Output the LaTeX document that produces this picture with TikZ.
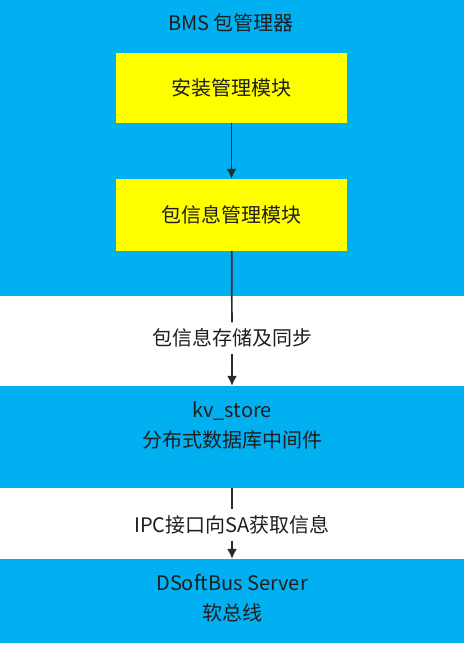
\documentclass[tikz,border=0pt]{standalone}
\usepackage{fontspec}
\setmainfont{Noto Sans CJK SC}
\usepackage{tikz}
\usetikzlibrary{arrows.meta, positioning}
\definecolor{bmsblue}{HTML}{00B0F0}
\definecolor{modyellow}{HTML}{FFFF00}
\definecolor{inkgray}{HTML}{1E1E1E}
\definecolor{linegray}{HTML}{2B2B2B}

\begin{document}
\begin{tikzpicture}[
    x=1pt, y=1pt,
    layer/.style={draw=none, fill=bmsblue, minimum width=464pt, inner sep=0pt},
    module/.style={draw=none, fill=modyellow, minimum width=231pt, inner sep=0pt, font=\fontsize{20}{24}\selectfont, text=inkgray},
    txt/.style={font=\fontsize{20}{30}\selectfont, text=inkgray, align=center, inner sep=0pt},
    note/.style={txt, fill=white, inner xsep=2pt, inner ysep=6pt},
    flow/.style={draw=linegray, line width=1.7pt, -{Latex[length=10pt, width=10pt]}},
    plain/.style={draw=linegray, line width=1.7pt},
]
\useasboundingbox (0,0) rectangle (464,-645);
% blue layers
\node[layer, minimum height=296pt] (bms) at (232,-148) {};
\node[layer, minimum height=102pt] (kv) at (232,-437) {};
\node[layer, minimum height=84pt] (bus) at (232,-601) {};
% layer captions
\node[txt] (bmstitle) at (231,-23) {BMS 包管理器};
\node[txt] (kvtext) at (232,-425) {kv\_store\\分布式数据库中间件};
\node[txt] (bustext) at (232,-598) {DSoftBus Server\\软总线};
% yellow modules
\node[module, minimum height=70pt] (install) at (231.5,-88) {安装管理模块};
\node[module, minimum height=72pt] (pkginfo) at (231.5,-215) {包信息管理模块};
% connectors
\draw[flow] (install) -- (pkginfo);
\node[note] (storelbl) at (232,-338) {包信息存储及同步};
\draw[plain] (pkginfo) -- (storelbl);
\draw[flow] (storelbl) -- (kv);
\node[note] (ipclbl) at (232,-525) {IPC接口向SA获取信息};
\draw[plain] (kv) -- (ipclbl);
\draw[flow] (ipclbl) -- (bus);
\end{tikzpicture}
\end{document}
